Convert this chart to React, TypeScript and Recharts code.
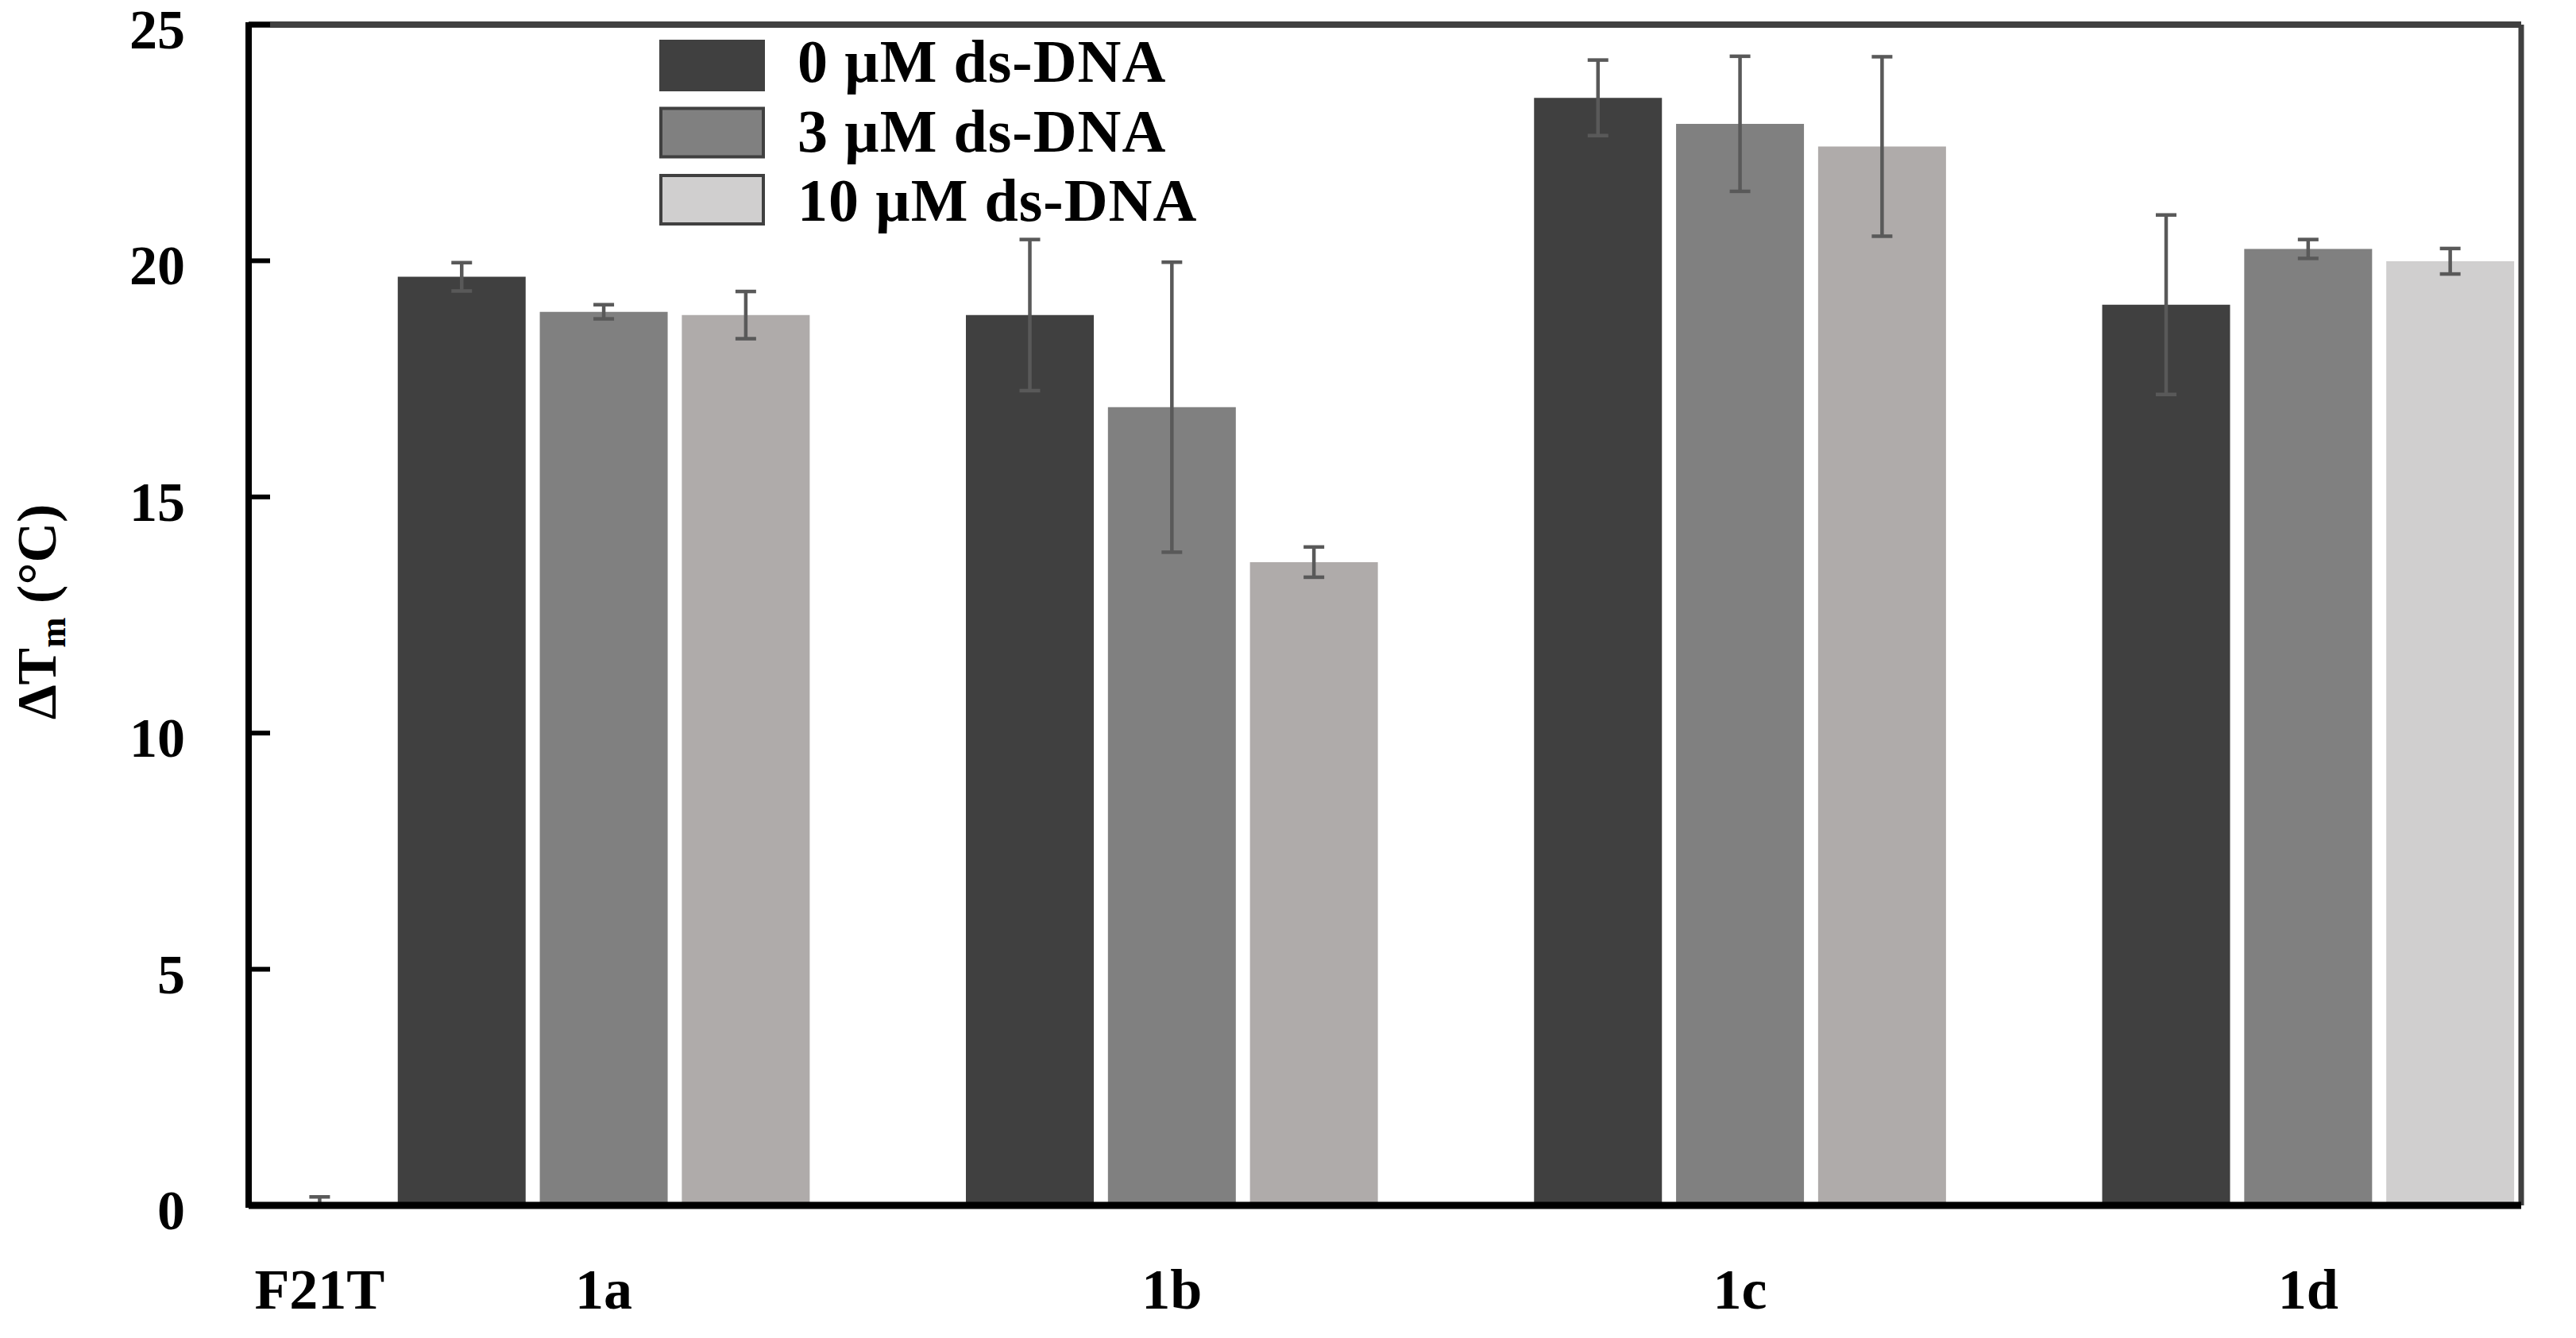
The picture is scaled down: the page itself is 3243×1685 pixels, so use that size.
import { ComposedChart, Bar, Scatter, XAxis, YAxis, ErrorBar, Cell, Legend } from 'recharts';

const FONT = '"Liberation Serif", "Times New Roman", serif';

// control (no compound); only the upper half of its error bar shows above the axis
const controlLabel = 'F21T';
const controlValue = 0;
const controlError = [0, 0.18];

const compounds = ['1a', '1b', '1c', '1d'];
const seriesNames = ['0 µM ds-DNA', '3 µM ds-DNA', '10 µM ds-DNA'];

// ΔTm (°C) per compound
const dna0 = [19.66, 18.85, 23.45, 19.07];
const err0 = [0.3, 1.6, 0.8, 1.9];
const dna3 = [18.92, 16.9, 22.9, 20.25];
const err3 = [0.15, 3.07, 1.43, 0.2];
const dna10 = [18.85, 13.62, 22.42, 19.99];
const err10 = [0.5, 0.32, 1.9, 0.27];

const yTicks = [0, 5, 10, 15, 20, 25];

const DARK = '#404040';
const MID = '#808080';
const LIGHT = '#afabaa';
const LIGHT_ALT = '#d0cfcf';
const ERR = '#595959';

type Row = {
  slot: string;
  label: string;
  group: string;
  ctrl?: number;
  ctrlErr?: number[];
  v0?: number;
  e0?: number;
  v1?: number;
  e1?: number;
  v2?: number;
  e2?: number;
};

// one slot per bar, plus an empty slot between compounds
const rows: Row[] = [
  { slot: 'ctrl', label: controlLabel, group: controlLabel, ctrl: controlValue, ctrlErr: controlError },
];
compounds.forEach((c, i) => {
  if (i > 0) rows.push({ slot: `gap-${i}`, label: '', group: '' });
  rows.push({ slot: `${c}-0`, label: '', group: c, v0: dna0[i], e0: err0[i] });
  rows.push({ slot: `${c}-3`, label: c, group: c, v1: dna3[i], e1: err3[i] });
  rows.push({ slot: `${c}-10`, label: '', group: c, v2: dna10[i], e2: err10[i] });
});
const labelOf: Record<string, string> = Object.fromEntries(rows.map(r => [r.slot, r.label]));

const Y_TICK_MARGIN = 80;

// tick label outside, tick mark pointing into the plot
const YTick = (props: any) => {
  const { x, y, payload } = props;
  const ax = x + Y_TICK_MARGIN;
  return (
    <g>
      <line x1={ax - 4} x2={ax + 27} y1={y} y2={y} stroke="#000" strokeWidth={6} />
      <text x={x} y={y} dy={30} textAnchor="end" fontFamily={FONT} fontWeight="bold" fontSize={70} fill="#000">
        {payload.value}
      </text>
    </g>
  );
};

const XTick = (props: any) => {
  const { x, y, payload } = props;
  const label = labelOf[payload.value];
  if (!label) return <g />;
  return (
    <text x={x} y={y} textAnchor="middle" fontFamily={FONT} fontWeight="bold" fontSize={72} fill="#000">
      {label}
    </text>
  );
};

const YTitle = (props: any) => {
  const vb = props.viewBox;
  const cy = vb && vb.height ? vb.y + vb.height / 2 : 775;
  return (
    <text
      transform={`translate(70,${cy - 4}) rotate(-90)`}
      textAnchor="middle"
      fontFamily={FONT}
      fontWeight="bold"
      fontSize={70}
      fill="#000"
    >
      ΔT
      <tspan fontSize={46} dy={12}>m</tspan>
      <tspan dy={-12}> (°C)</tspan>
    </text>
  );
};

const NoMarker = () => <g />;

const swatchFills = [DARK, MID, LIGHT_ALT];

const LegendBox = () => (
  <svg width={700} height={280}>
    {seriesNames.map((name, i) => (
      <g key={name}>
        <rect x={12} y={12 + i * 84.5} width={129} height={61} fill={swatchFills[i]} stroke={DARK} strokeWidth={4} />
        <text
          x={184}
          y={63 + i * 87.5}
          fontFamily={FONT}
          fontWeight="bold"
          fontSize={76}
          letterSpacing={1}
          fill="#000"
        >
          {name}
        </text>
      </g>
    ))}
  </svg>
);

export default function App() {
  return (
    <div style={{ position: 'absolute', left: 0, top: 0, width: 3243, height: 1685, background: '#fff' }}>
      <ComposedChart
        width={3243}
        height={1685}
        data={rows}
        margin={{ top: 30, right: 68, bottom: 0, left: 0 }}
        barCategoryGap="5%"
      >
        <Legend
          layout="horizontal"
          verticalAlign="middle"
          align="center"
          content={() => <LegendBox />}
          wrapperStyle={{ left: 820, top: 40, width: 700, height: 280 }}
        />
        <Bar xAxisId="a" dataKey="v0" name={seriesNames[0]} fill={DARK} isAnimationActive={false}>
          <ErrorBar dataKey="e0" width={13} strokeWidth={4.5} stroke={ERR} direction="y" isAnimationActive={false} />
        </Bar>
        <Bar xAxisId="b" dataKey="v1" name={seriesNames[1]} fill={MID} isAnimationActive={false}>
          <ErrorBar dataKey="e1" width={13} strokeWidth={4.5} stroke={ERR} direction="y" isAnimationActive={false} />
        </Bar>
        <Bar xAxisId="c" dataKey="v2" name={seriesNames[2]} fill={LIGHT} isAnimationActive={false}>
          {rows.map(r => (
            <Cell key={r.slot} fill={r.group === '1d' ? LIGHT_ALT : LIGHT} />
          ))}
          <ErrorBar dataKey="e2" width={13} strokeWidth={4.5} stroke={ERR} direction="y" isAnimationActive={false} />
        </Bar>
        <Scatter xAxisId="a" dataKey="ctrl" name={controlLabel} shape={<NoMarker />} isAnimationActive={false}>
          <ErrorBar dataKey="ctrlErr" width={13} strokeWidth={4.5} stroke={ERR} direction="y" isAnimationActive={false} />
        </Scatter>
        <XAxis xAxisId="b" dataKey="slot" hide />
        <XAxis xAxisId="c" dataKey="slot" hide />
        <XAxis
          xAxisId="top"
          dataKey="slot"
          orientation="top"
          height={1}
          tick={false}
          tickLine={false}
          axisLine={{ stroke: DARK, strokeWidth: 8 }}
        />
        <YAxis
          yAxisId="right"
          orientation="right"
          width={1}
          domain={[0, 25]}
          tick={false}
          tickLine={false}
          axisLine={{ stroke: DARK, strokeWidth: 7 }}
        />
        <YAxis
          domain={[0, 25]}
          allowDataOverflow
          ticks={yTicks}
          width={313}
          tickSize={0}
          tickMargin={Y_TICK_MARGIN}
          tickLine={false}
          tick={<YTick />}
          axisLine={{ stroke: '#000', strokeWidth: 8 }}
          label={<YTitle />}
        />
        <XAxis
          xAxisId="a"
          dataKey="slot"
          height={167}
          interval={0}
          tickSize={0}
          tickMargin={130}
          tickLine={false}
          tick={<XTick />}
          axisLine={{ stroke: '#000', strokeWidth: 9 }}
        />
      </ComposedChart>
    </div>
  );
}
